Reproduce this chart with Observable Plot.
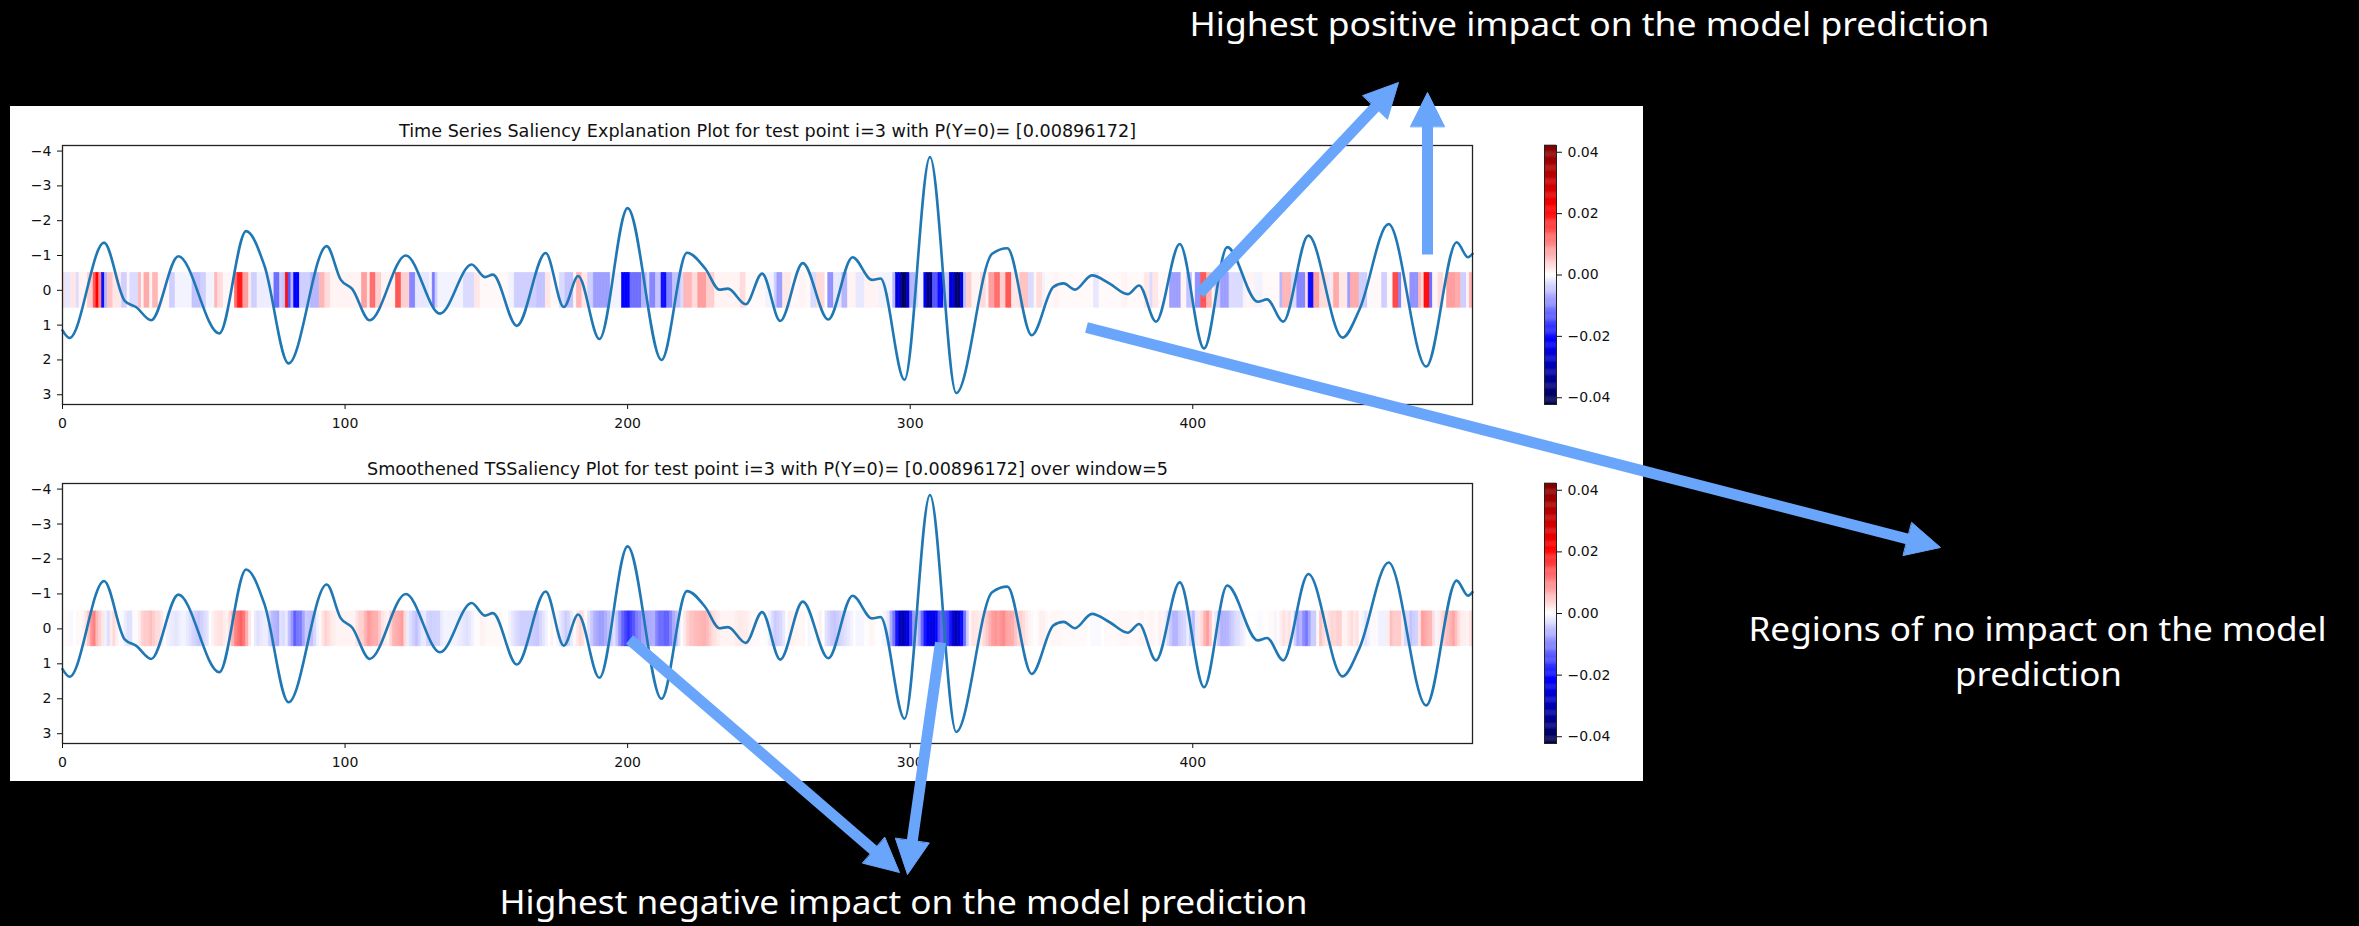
<!DOCTYPE html>
<html>
<head>
<meta charset="utf-8">
<script src="https://cdn.jsdelivr.net/npm/d3@7"></script>
<script src="https://cdn.jsdelivr.net/npm/@observablehq/plot@0.6"></script>
<style>
  html, body { margin: 0; padding: 0; background: #000; }
  #page { position: relative; width: 2359px; height: 926px; background: #000; overflow: hidden; }
  #panel { position: absolute; left: 10px; top: 106px; width: 1633px; height: 675px; background: #fff; }
  #page svg { position: absolute; left: 0; top: 0; overflow: visible; }
</style>
</head>
<body>
<div id="page"><div id="panel"></div></div>
<script>
// ---- data -------------------------------------------------------------
// Test series (time index, value) at its turning points and shoulders.
const seriesKnots = [
  [0, 1.15], [2.5, 1.37], [14.7, -1.37], [22, 0.3], [26, 0.48], [31.4, 0.86],
  [41, -0.98], [55.5, 1.24], [65, -1.7], [71.5, -0.7], [80, 2.1], [93.5, -1.27],
  [98.5, -0.3], [102.5, -0.04], [108.7, 0.86], [121.5, -1.0], [133.6, 0.67],
  [144.8, -0.74], [149.5, -0.38], [152.3, -0.45], [160.8, 1.02], [171, -1.07],
  [177.4, 0.48], [182.5, -0.41], [190, 1.4], [200, -2.36], [212, 2.0], [221, -1.08],
  [227.5, -0.62], [232.5, -0.02], [235.5, -0.05], [241.8, 0.4], [247.6, -0.48],
  [254, 0.88], [262, -0.78], [271, 0.84], [279.6, -0.95], [286.5, -0.3], [289.5, -0.34],
  [298, 2.57], [307, -3.83], [316.3, 2.95], [329, -1.05], [334.4, -1.21], [343, 1.29],
  [350.7, -0.1], [354.3, -0.2], [358.3, -0.02], [364.3, -0.43], [370.6, -0.19],
  [377, 0.11], [381, -0.14], [387, 0.9], [395.4, -1.33], [404, 1.67], [412.2, -1.24],
  [423, 0.33], [426.3, 0.26], [432, 0.9], [440.9, -1.57], [453, 1.36], [459, 0.55],
  [469.3, -1.9], [482.6, 2.19], [493.4, -1.38], [497.4, -0.95], [499, -1.05]
];

// Saliency per time step as runs [start, end (exclusive), value]; steps not listed are 0.
const saliencyRuns = [
  [0,1,.003],[1,3,-.002],[3,5,.002],[5,6,-.003],[6,9,.001],[9,11,.004],[11,12,.014],[12,13,.021],
  [13,14,.01],[14,15,-.02],[15,16,-.006],[16,18,.005],[18,21,.002],[21,23,-.004],[23,24,.001],
  [24,27,-.003],[27,28,.006],[28,29,.001],[29,31,.007],[31,32,.001],[32,34,.006],[34,38,.0007],[38,40,-.004],
  [40,46,-.001],[46,49,-.005],[49,51,-.004],[51,54,-.001],[54,55,.006],[55,57,.003],[57,61,.0007],[61,62,.012],
  [62,64,.019],[64,66,.008],[66,67,.002],[67,69,-.004],[69,75,-.0015],[75,77,-.012],[77,78,-.004],
  [78,79,-.005],[79,80,.02],[80,81,-.014],[81,82,-.006],[82,84,-.021],[84,88,-.004],[88,91,-.006],
  [91,93,.006],[93,95,.003],[95,106,.001],[106,108,.008],[108,109,.002],[109,111,.012],[111,113,.004],
  [113,118,.001],[118,120,.014],[120,123,.004],[123,125,-.01],[125,130,-.002],[130,131,-.001],
  [131,132,-.011],[132,133,-.004],[133,142,-.001],[142,146,-.003],[146,148,.002],[148,158,.0006],[158,160,-.001],
  [160,168,-.004],[168,171,-.005],[171,173,.002],[173,176,.0006],[176,178,-.003],[178,181,-.005],[181,182,.001],
  [182,184,.006],[184,186,.002],[186,188,-.004],[188,194,-.008],[194,198,-.001],[198,201,-.021],
  [201,205,-.012],[205,207,-.006],[207,208,-.003],[208,210,-.01],[210,212,-.005],[212,214,-.02],
  [214,216,-.01],[216,219,-.005],[219,220,-.003],[220,223,.006],[223,225,.003],[225,228,.008],
  [228,231,.004],[231,240,.001],[240,242,.003],[242,249,.0005],[249,252,-.001],[252,253,-.004],[253,255,-.008],
  [255,258,.002],[258,261,.0006],[261,263,.001],[263,265,.0006],[265,267,-.003],[267,270,.003],[271,273,-.009],[273,276,-.002],
  [276,278,-.006],[278,281,.001],[281,284,-.002],[284,289,.001],[289,294,-.001],[294,295,-.006],
  [295,297,-.025],[297,299,-.04],[299,300,-.025],[300,302,-.006],[302,303,-.003],[303,305,-.001],
  [305,306,-.022],[306,308,-.036],[308,310,-.014],[310,312,-.02],[312,314,-.004],[314,316,-.025],
  [316,318,-.038],[318,319,-.024],[319,320,-.005],[320,322,.004],[322,325,.001],[325,327,.003],
  [327,328,.001],[328,330,.008],[330,332,.012],[332,334,.004],[334,336,.014],[336,339,.002],
  [339,342,.005],[342,344,-.003],[344,345,.001],[345,347,.003],[347,348,-.001],[348,351,.0006],[351,353,.001],
  [353,365,.0005],[365,367,-.002],[367,375,.0005],[375,377,.001],[377,383,.0005],[383,385,.002],[385,386,-.003],[386,388,.002],[388,392,.0006],[392,396,-.008],
  [396,398,.001],[398,400,-.005],[401,403,-.009],[403,405,.014],[405,407,.006],[407,408,.001],
  [408,410,-.004],[410,413,-.008],[413,418,-.003],[418,419,-.001],[419,422,.001],[422,425,-.001],[425,431,.0005],
  [431,432,-.006],[432,435,.006],[435,437,-.003],[437,440,-.01],[440,441,.003],[441,443,-.02],
  [443,445,.008],[445,448,.003],[448,449,-.002],[449,450,.002],[450,452,.007],[452,455,.002],
  [455,456,-.008],[456,459,.007],[459,462,-.004],[462,467,.0006],[467,469,-.004],[469,471,.0006],[471,473,.015],[473,474,-.01],
  [474,477,.001],[477,480,-.009],[480,481,.006],[481,482,.003],[482,484,.02],[484,485,-.012],
  [485,487,.001],[487,489,.003],[490,493,.008],[493,495,.007],[495,497,-.004],[497,498,.001],
  [498,500,.006]
];

const seriesLength = 500;
const smoothingWindow = 5;
const colorLimit = 0.0422;
const xTicks = [0, 100, 200, 300, 400];
const yTicks = [-4, -3, -2, -1, 0, 1, 2, 3];
const colorbarTicks = [-0.04, -0.02, 0, 0.02, 0.04];

const titleRaw = "Time Series Saliency Explanation Plot for test point i=3 with P(Y=0)= [0.00896172]";
const titleSmooth = "Smoothened TSSaliency Plot for test point i=3 with P(Y=0)= [0.00896172] over window=5";

// Callout text and arrows drawn over the page (page pixel coordinates).
const notes = [
  {x: 1589, y: 25, label: "Highest positive impact on the model prediction", width: 800},
  {x: 2037, y: 630, label: "Regions of no impact on the model", width: 578},
  {x: 2038, y: 675, label: "prediction", width: 167},
  {x: 903, y: 903, label: "Highest negative impact on the model prediction", width: 808}
];
const callouts = [
  {from: [1199, 293], to: [1398, 82]},
  {from: [1427, 254], to: [1427, 92]},
  {from: [1086, 327], to: [1940, 547]},
  {from: [629, 639], to: [899, 872]},
  {from: [940, 642], to: [907, 874]}
];

// ---- derived tables ---------------------------------------------------
const series = seriesKnots.map(([t, v]) => ({t, v}));
const cells = Array.from({length: seriesLength}, (_, i) => ({i, s: 0}));
for (const [a, b, v] of saliencyRuns) for (let i = a; i < b; ++i) cells[i].s = v;

// matplotlib "seismic" colormap stops
const seismic = ["#00004c", "#0000ff", "#ffffff", "#ff0000", "#7f0000"];
const colorScale = {
  type: "linear",
  domain: [-colorLimit, -colorLimit / 2, 0, colorLimit / 2, colorLimit],
  range: seismic,
  interpolate: d3.interpolateRgb,
  clamp: true
};

const minus = (s) => s.replace("-", "\u2212");
const fmtInt = (d) => minus(String(d));
const fmtBar = (d) => minus(d.toFixed(2));

const font = {fontFamily: "DejaVu Sans", fontSize: "14px", background: "transparent", color: "#111", overflow: "visible"};

function fitText(svg, label, width) {
  svg.querySelectorAll("text").forEach((t) => {
    if (t.textContent === label) {
      t.setAttribute("textLength", width);
      t.setAttribute("lengthAdjust", "spacingAndGlyphs");
    }
  });
}

function saliencyChart({smooth, title, top, bottom, height}) {
  // z: null keeps the whole band as one ordered series for the rolling mean
  const band = {x1: "i", x2: (d) => d.i + 1, y1: -0.5, y2: 0.5, z: null, fill: "s", stroke: "s", strokeWidth: 0.6, clip: true};
  const win = Plot.window({k: smoothingWindow, anchor: "middle", reduce: "mean"});
  return Plot.plot({
    width: 1500,
    height,
    marginLeft: 62,
    marginRight: 28,
    marginTop: top,
    marginBottom: height - bottom,
    style: font,
    x: {domain: [0, seriesLength - 1], ticks: xTicks, tickSize: 5, tickPadding: 9, tickFormat: fmtInt, label: null},
    y: {domain: [-4.16, 3.28], reverse: true, ticks: yTicks, tickSize: 5, tickPadding: 6, tickFormat: fmtInt, label: null},
    color: colorScale,
    marks: [
      smooth ? Plot.rect(cells, Plot.map({fill: win, stroke: win}, band)) : Plot.rect(cells, band),
      Plot.line(series, {x: "t", y: "v", stroke: "#1f77b4", strokeWidth: 2.6, curve: "monotone-x"}),
      Plot.frame({stroke: "#222", strokeWidth: 1.3}),
      Plot.text([title], {frameAnchor: "top", lineAnchor: "bottom", dy: -9, fontSize: 18, fill: "#111", text: (d) => d})
    ]
  });
}

function colorbar({top, bottom, height}) {
  const n = 240;
  const step = (2 * colorLimit) / n;
  const slices = d3.range(n).map((k) => ({lo: -colorLimit + k * step, hi: -colorLimit + (k + 1) * step}));
  return Plot.plot({
    width: 1640,
    height,
    marginLeft: 1544,
    marginRight: 1640 - 1556,
    marginTop: top,
    marginBottom: height - bottom,
    style: font,
    x: {domain: [0, 1], axis: null},
    y: {domain: [-colorLimit, colorLimit], axis: "right", ticks: colorbarTicks, tickSize: 5, tickPadding: 6, tickFormat: fmtBar, label: null},
    color: colorScale,
    marks: [
      Plot.rect(slices, {x1: 0, x2: 1, y1: "lo", y2: (d) => d.hi + step * 0.3, fill: (d) => (d.lo + d.hi) / 2}),
      Plot.frame({stroke: "#222", strokeWidth: 1})
    ]
  });
}

function overlay() {
  const heads = [];
  const shafts = [];
  const headLen = 34, halfWidth = 17;
  callouts.forEach(({from, to}, k) => {
    const dx = to[0] - from[0], dy = to[1] - from[1];
    const len = Math.hypot(dx, dy);
    const ux = dx / len, uy = dy / len;
    const bx = to[0] - ux * headLen, by = to[1] - uy * headLen;
    shafts.push({x1: from[0], y1: from[1], x2: bx + ux * 2, y2: by + uy * 2});
    heads.push({k, x: bx - uy * halfWidth, y: by + ux * halfWidth});
    heads.push({k, x: to[0], y: to[1]});
    heads.push({k, x: bx + uy * halfWidth, y: by - ux * halfWidth});
  });
  return Plot.plot({
    width: 2359,
    height: 926,
    margin: 0,
    style: {background: "transparent", overflow: "visible"},
    x: {domain: [0, 2359], range: [0, 2359], axis: null},
    y: {domain: [0, 926], range: [0, 926], axis: null},
    marks: [
      Plot.link(shafts, {x1: "x1", y1: "y1", x2: "x2", y2: "y2", stroke: "#69a5fb", strokeWidth: 11, strokeLinecap: "butt"}),
      Plot.line(heads, {x: "x", y: "y", z: "k", fill: "#69a5fb", stroke: "#69a5fb", strokeWidth: 1, curve: "linear-closed"}),
      Plot.text(notes, {x: "x", y: "y", text: "label", fill: "#ffffff", fontSize: 32, fontFamily: "Noto Sans", textAnchor: "middle", lineAnchor: "middle"})
    ]
  });
}

// ---- render -----------------------------------------------------------
const page = document.getElementById("page");
const topChart = saliencyChart({smooth: false, title: titleRaw, top: 145, bottom: 404, height: 440});
const bottomChart = saliencyChart({smooth: true, title: titleSmooth, top: 483, bottom: 743, height: 790});
const topBar = colorbar({top: 145, bottom: 404, height: 440});
const bottomBar = colorbar({top: 483, bottom: 743, height: 790});
const notesLayer = overlay();
[topChart, bottomChart, topBar, bottomBar, notesLayer].forEach((el) => page.appendChild(el));

fitText(topChart, titleRaw, 737);
fitText(bottomChart, titleSmooth, 801);
notes.forEach((n) => fitText(notesLayer, n.label, n.width));
</script>
</body>
</html>
